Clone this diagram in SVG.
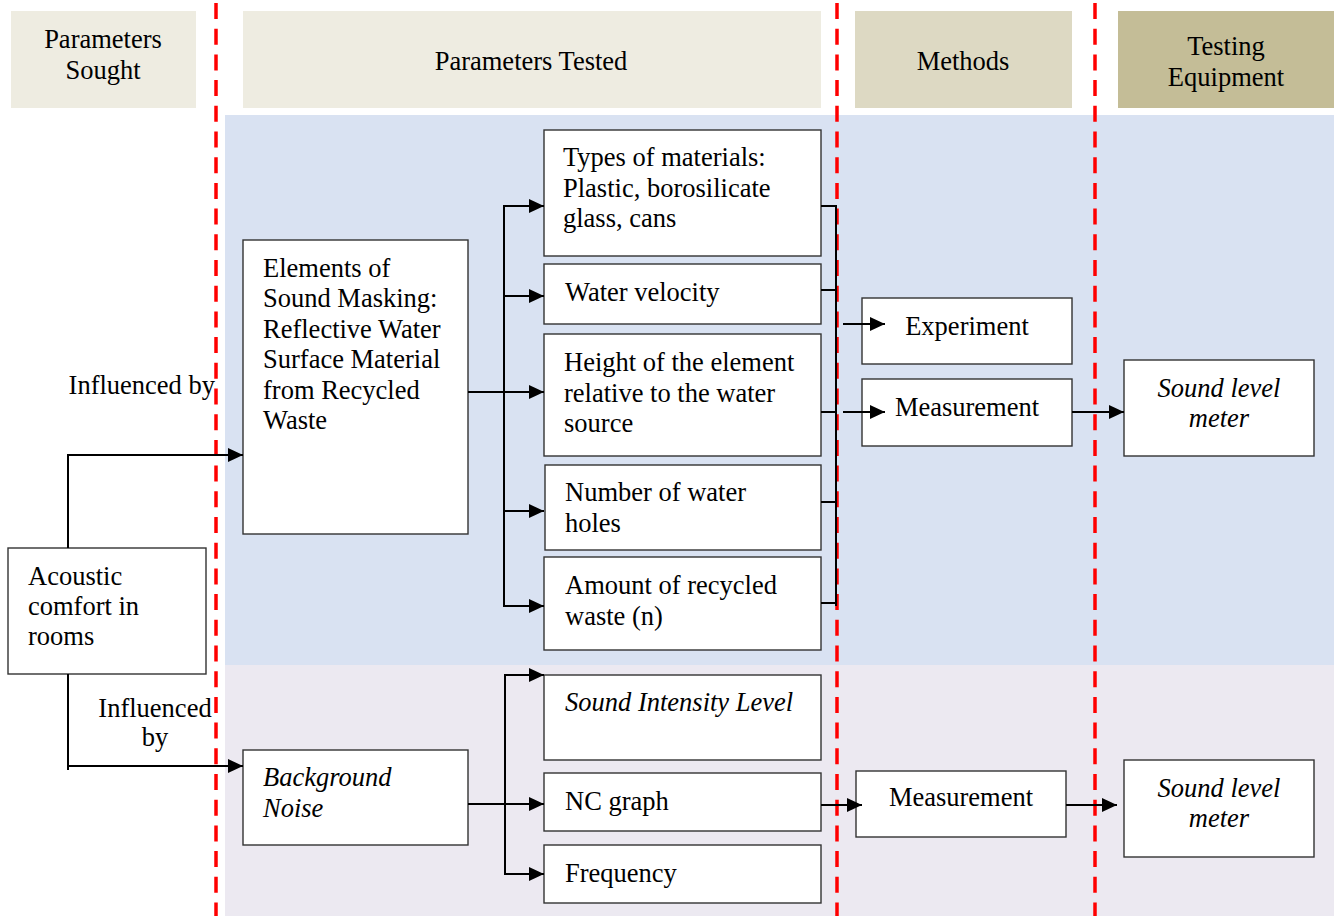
<svg xmlns="http://www.w3.org/2000/svg" width="1334" height="916" viewBox="0 0 1334 916">
<defs>
<marker id="arr" viewBox="0 0 15 14" refX="15" refY="7" markerWidth="15" markerHeight="14" markerUnits="userSpaceOnUse" orient="auto">
<path d="M0,0 L15,7 L0,14 z" fill="#000"/>
</marker>
<style>
text{font-family:"Liberation Serif","Times New Roman",serif;font-size:26.5px;fill:#000}
.c{text-anchor:middle}
.i{font-style:italic}
.box{fill:#fff;stroke:#333;stroke-width:1.4}
.ln{fill:none;stroke:#000;stroke-width:2}
.ar{fill:none;stroke:#000;stroke-width:2;marker-end:url(#arr)}
.dash{stroke:#f00;stroke-width:3.5;stroke-dasharray:16 9.7;fill:none}
</style>
</defs>
<rect width="1334" height="916" fill="#fff"/>
<g id="bands">
<rect x="225" y="115" width="1109" height="550" fill="#D9E2F2"/>
<rect x="225" y="665" width="1109" height="251" fill="#ECE9F1"/>
</g>
<g id="headers">
<g id="h-sought"><rect x="11" y="11" width="185" height="97" fill="#EEECE1"/><text class="c" x="103" y="48">Parameters</text><text class="c" x="103" y="79">Sought</text></g>
<g id="h-tested"><rect x="243" y="11" width="578" height="97" fill="#EEECE1"/><text class="c" x="531" y="70">Parameters Tested</text></g>
<g id="h-methods"><rect x="855" y="11" width="217" height="97" fill="#DDD9C3"/><text class="c" x="963" y="70">Methods</text></g>
<g id="h-equip"><rect x="1118" y="11" width="216" height="97" fill="#C4BD97"/><text class="c" x="1226" y="55">Testing</text><text class="c" x="1226" y="86">Equipment</text></g>
</g>
<g id="dividers">
<line class="dash" x1="216" y1="3" x2="216" y2="916"/>
<line class="dash" x1="837" y1="3" x2="837" y2="916"/>
<line class="dash" x1="1095" y1="3" x2="1095" y2="916"/>
</g>
<g id="acoustic"><rect class="box" x="8" y="548" width="198" height="126"/><text x="28" y="585">Acoustic</text><text x="28" y="615">comfort in</text><text x="28" y="645">rooms</text></g>
<g id="elements"><rect class="box" x="243" y="240" width="225" height="294"/>
<text x="263" y="277">Elements of</text><text x="263" y="307">Sound Masking:</text><text x="263" y="338">Reflective Water</text><text x="263" y="368">Surface Material</text><text x="263" y="399">from Recycled</text><text x="263" y="429">Waste</text></g>
<g id="types"><rect class="box" x="544" y="130" width="277" height="126"/><text x="563" y="166">Types of materials:</text><text x="563" y="197">Plastic, borosilicate</text><text x="563" y="227">glass, cans</text></g>
<g id="velocity"><rect class="box" x="544" y="264" width="277" height="60"/><text x="565" y="301">Water velocity</text></g>
<g id="height"><rect class="box" x="544" y="334" width="277" height="122"/><text x="564" y="371">Height of the element</text><text x="564" y="402">relative to the water</text><text x="564" y="432">source</text></g>
<g id="holes"><rect class="box" x="545" y="465" width="276" height="85"/><text x="565" y="501">Number of water</text><text x="565" y="532">holes</text></g>
<g id="amount"><rect class="box" x="544" y="557" width="277" height="93"/><text x="565" y="594">Amount of recycled</text><text x="565" y="625">waste (n)</text></g>
<g id="experiment"><rect class="box" x="862" y="298" width="210" height="66"/><text class="c" x="967" y="335">Experiment</text></g>
<g id="measure1"><rect class="box" x="862" y="379" width="210" height="67"/><text class="c" x="967" y="416">Measurement</text></g>
<g id="slm1"><rect class="box" x="1124" y="360" width="190" height="96"/><text class="c i" x="1219" y="397">Sound level</text><text class="c i" x="1219" y="427">meter</text></g>
<g id="background"><rect class="box" x="243" y="750" width="225" height="95"/><text class="i" x="263" y="786">Background</text><text class="i" x="263" y="817">Noise</text></g>
<g id="sil"><rect class="box" x="544" y="675" width="277" height="85"/><text class="i" x="565" y="711">Sound Intensity Level</text></g>
<g id="nc"><rect class="box" x="544" y="773" width="277" height="58"/><text x="565" y="810">NC graph</text></g>
<g id="freq"><rect class="box" x="544" y="845" width="277" height="58"/><text x="565" y="882">Frequency</text></g>
<g id="measure2"><rect class="box" x="856" y="771" width="210" height="66"/><text class="c" x="961" y="806">Measurement</text></g>
<g id="slm2"><rect class="box" x="1124" y="760" width="190" height="97"/><text class="c i" x="1219" y="797">Sound level</text><text class="c i" x="1219" y="827">meter</text></g>
<g id="labels">
<text x="215" y="394" style="text-anchor:end">Influenced by</text>
<text class="c" x="155" y="717">Influenced</text>
<text class="c" x="155" y="746">by</text>
</g>
<g id="connectors">
<polyline class="ar" points="68,548 68,455 243,455"/>
<polyline class="ln" points="68,674 68,770"/>
<polyline class="ar" points="68,766 243,766"/>
<line class="ln" x1="468" y1="392" x2="504" y2="392"/>
<line class="ln" x1="504" y1="205" x2="504" y2="607"/>
<line class="ar" x1="503" y1="206" x2="544" y2="206"/>
<line class="ar" x1="503" y1="296" x2="544" y2="296"/>
<line class="ar" x1="503" y1="392" x2="544" y2="392"/>
<line class="ar" x1="503" y1="511" x2="544" y2="511"/>
<line class="ar" x1="503" y1="606" x2="544" y2="606"/>
<line class="ln" x1="821" y1="206" x2="837" y2="206"/>
<line class="ln" x1="821" y1="290" x2="837" y2="290"/>
<line class="ln" x1="821" y1="412" x2="837" y2="412"/>
<line class="ln" x1="821" y1="502" x2="837" y2="502"/>
<line class="ln" x1="821" y1="603" x2="837" y2="603"/>
<line class="ln" x1="836" y1="205" x2="836" y2="606"/>
<line class="ar" x1="843" y1="324" x2="885" y2="324"/>
<line class="ar" x1="843" y1="412" x2="885" y2="412"/>
<line class="ar" x1="1072" y1="412" x2="1124" y2="412"/>
<line class="ln" x1="468" y1="804" x2="505" y2="804"/>
<line class="ln" x1="505" y1="674" x2="505" y2="875"/>
<line class="ar" x1="504" y1="675" x2="544" y2="675"/>
<line class="ar" x1="504" y1="804" x2="544" y2="804"/>
<line class="ar" x1="504" y1="874" x2="544" y2="874"/>
<line class="ar" x1="821" y1="805" x2="862" y2="805"/>
<line class="ar" x1="1066" y1="805" x2="1117" y2="805"/>
</g>
</svg>
